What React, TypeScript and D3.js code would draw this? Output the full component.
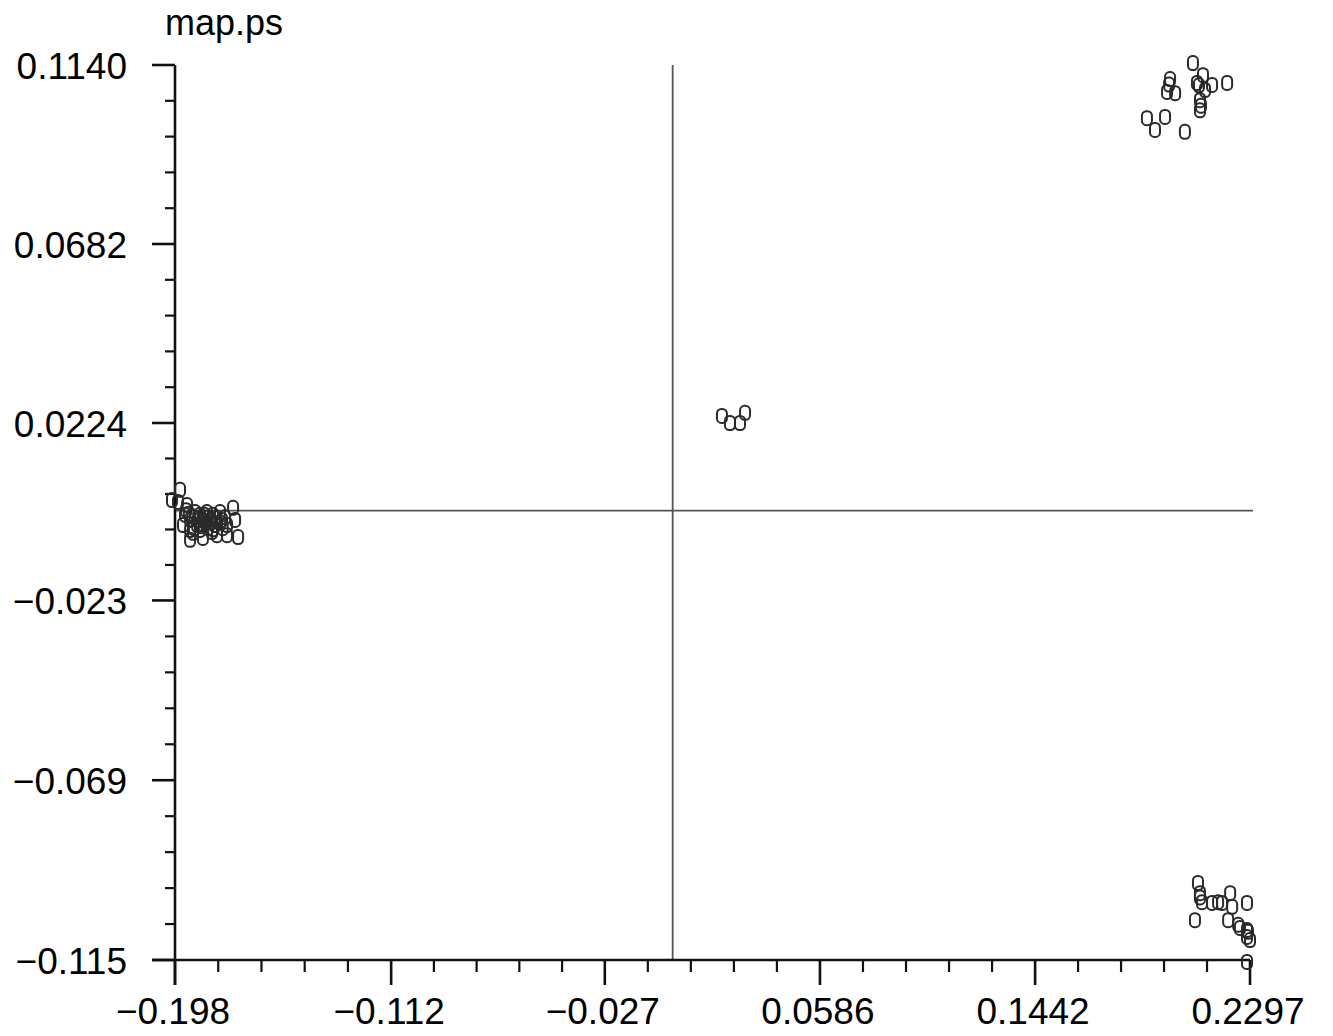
import React from "react";
import * as d3 from "d3";

const title = "map.ps";
const xTickValues = [-0.198, -0.112, -0.027, 0.0586, 0.1442, 0.2297];
const xTickLabels = ["\u22120.198", "\u22120.112", "\u22120.027", "0.0586", "0.1442", "0.2297"];
const yTickValues = [0.114, 0.0682, 0.0224, -0.023, -0.069, -0.115];
const yTickLabels = ["0.1140", "0.0682", "0.0224", "\u22120.023", "\u22120.069", "\u22120.115"];

const clusterTopRightX = [0.2070, 0.1979, 0.1967, 0.1999, 0.2110, 0.2086, 0.2146, 0.2206, 0.2098, 0.2098, 0.1887, 0.1919, 0.1959, 0.2038, 0.2118, 0.1975, 0.2094, 0.2102];
const clusterTopRightY = [0.1145, 0.1104, 0.1071, 0.1068, 0.1114, 0.1094, 0.1089, 0.1094, 0.1050, 0.1024, 0.1004, 0.0974, 0.1007, 0.0969, 0.1076, 0.1090, 0.1088, 0.1036];

const clusterBottomRightX = [0.2090, 0.2098, 0.2106, 0.2146, 0.2170, 0.2186, 0.2218, 0.2226, 0.2285, 0.2078, 0.2210, 0.2257, 0.2285, 0.2289, 0.2297, 0.2285, 0.2285, 0.2098, 0.2250];
const clusterBottomRightY = [-0.0953, -0.0979, -0.1002, -0.1004, -0.1002, -0.1004, -0.0979, -0.1014, -0.1004, -0.1048, -0.1048, -0.1068, -0.1073, -0.1078, -0.1099, -0.1091, -0.1155, -0.0990, -0.1060];

const clusterCenterX = [0.0196, 0.0228, 0.0268, 0.0288];
const clusterCenterY = [0.0242, 0.0224, 0.0224, 0.0250];

const clusterLeftX = [-0.1992, -0.1960, -0.1968, -0.1932, -0.1940, -0.1920, -0.1920, -0.1920, -0.1900, -0.1892, -0.1881, -0.1869, -0.1869, -0.1853, -0.1849, -0.1841, -0.1829, -0.1821, -0.1813, -0.1801, -0.1793, -0.1781, -0.1773, -0.1773, -0.1749, -0.1741, -0.1729, -0.1948, -0.1908, -0.1936, -0.1881, -0.1833, -0.1910, -0.1860, -0.1800, -0.1890, -0.1850, -0.1925, -0.1875, -0.1838, -0.1815, -0.1905, -0.1865, -0.1828, -0.1790];
const clusterLeftY = [0.0027, 0.0053, 0.0022, 0.0014, -0.0011, -0.0024, -0.0050, -0.0075, -0.0004, -0.0037, -0.0011, -0.0024, -0.0070, -0.0004, -0.0045, -0.0024, -0.0011, -0.0037, -0.0063, -0.0004, -0.0024, -0.0017, -0.0037, -0.0063, 0.0007, -0.0024, -0.0068, -0.0037, -0.0057, 0.0001, -0.0050, -0.0055, -0.0015, -0.0030, -0.0030, -0.0025, -0.0018, -0.0008, -0.0040, -0.0030, -0.0020, -0.0045, -0.0010, -0.0048, -0.0045];

const allX = [...clusterTopRightX, ...clusterBottomRightX, ...clusterCenterX, ...clusterLeftX];
const allY = [...clusterTopRightY, ...clusterBottomRightY, ...clusterCenterY, ...clusterLeftY];

const W = 1333;
const H = 1036;
const left = 175, right = 1250, top = 65, bottom = 960;
const FONT = "'Liberation Sans', Arial, Helvetica, sans-serif";

export default function App() {
  const x = d3.scaleLinear().domain([xTickValues[0], xTickValues[xTickValues.length - 1]]).range([left, right]);
  const y = d3.scaleLinear().domain([yTickValues[yTickValues.length - 1], yTickValues[0]]).range([bottom, top]);

  const xMinor: number[] = [];
  for (let i = 0; i < xTickValues.length - 1; i++) {
    const a = x(xTickValues[i]), b = x(xTickValues[i + 1]);
    for (let k = 1; k < 5; k++) xMinor.push(a + ((b - a) * k) / 5);
  }
  const yMinor: number[] = [];
  for (let i = 0; i < yTickValues.length - 1; i++) {
    const a = y(yTickValues[i]), b = y(yTickValues[i + 1]);
    for (let k = 1; k < 5; k++) yMinor.push(a + ((b - a) * k) / 5);
  }

  const mw = 10, mh = 14;

  return (
    <svg width={W} height={H} style={{ position: "absolute", left: 0, top: 0, background: "#fff" }}>
      <rect x={0} y={0} width={W} height={H} fill="#fff" />
      <text x={165} y={35} fontFamily={FONT} fontSize={36} fill="#000">{title}</text>

      {/* crosshair at origin */}
      <line x1={x(0)} x2={x(0)} y1={top} y2={bottom} stroke="#555" strokeWidth={1.8} />
      <line x1={left} x2={right + 3} y1={y(0)} y2={y(0)} stroke="#555" strokeWidth={1.8} />

      {/* axes */}
      <line x1={left} x2={left} y1={top} y2={bottom + 25} stroke="#111" strokeWidth={2.6} />
      <line x1={left - 23} x2={right} y1={bottom} y2={bottom} stroke="#111" strokeWidth={2.6} />

      {yTickValues.map((v, i) => (
        <g key={"yt" + i}>
          <line x1={left - 23} x2={left} y1={y(v)} y2={y(v)} stroke="#111" strokeWidth={2.6} />
          <text x={127} y={y(v) + 14} textAnchor="end" fontFamily={FONT} fontSize={37} fill="#000">{yTickLabels[i]}</text>
        </g>
      ))}
      {yMinor.map((p, i) => (
        <line key={"ym" + i} x1={left - 10} x2={left} y1={p} y2={p} stroke="#111" strokeWidth={2.2} />
      ))}

      {xTickValues.map((v, i) => (
        <g key={"xt" + i}>
          <line x1={x(v)} x2={x(v)} y1={bottom} y2={bottom + 25} stroke="#111" strokeWidth={2.6} />
          <text x={x(v) - 2} y={1024} textAnchor="middle" fontFamily={FONT} fontSize={37} fill="#000">{xTickLabels[i]}</text>
        </g>
      ))}
      {xMinor.map((p, i) => (
        <line key={"xm" + i} x1={p} x2={p} y1={bottom} y2={bottom + 12} stroke="#111" strokeWidth={2.2} />
      ))}

      {/* points */}
      {allX.map((v, i) => (
        <rect
          key={"p" + i}
          x={x(v) - mw / 2}
          y={y(allY[i]) - mh / 2}
          width={mw}
          height={mh}
          rx={4.5}
          ry={4.5}
          fill="none"
          stroke="#2a2a2a"
          strokeWidth={2}
        />
      ))}
    </svg>
  );
}
